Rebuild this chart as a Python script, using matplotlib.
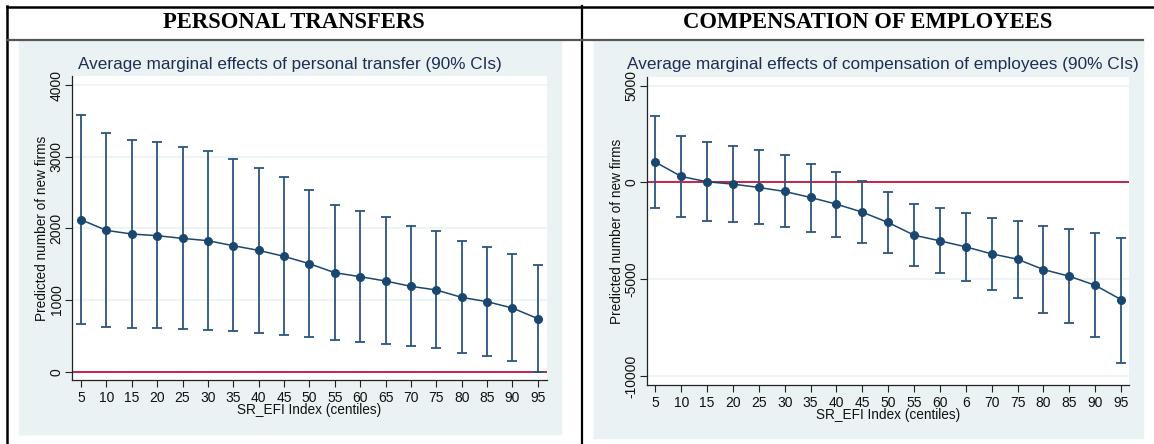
import numpy as np
import matplotlib
matplotlib.use('Agg')
import matplotlib.pyplot as plt
from matplotlib.patches import Rectangle
from matplotlib.lines import Line2D

# centiles of the SR_EFI index
centiles = [5, 10, 15, 20, 25, 30, 35, 40, 45, 50, 55, 60, 65, 70, 75, 80, 85, 90, 95]
centile_labels = ['5', '10', '15', '20', '25', '30', '35', '40', '45', '50',
                  '55', '60', '65', '70', '75', '80', '85', '90', '95']
# the compensation panel has a typo at 65 in the source table
centile_labels_comp = ['5', '10', '15', '20', '25', '30', '35', '40', '45', '50',
                       '55', '60', '6', '70', '75', '80', '85', '90', '95']

# personal transfers: margins with 90% CI
pt_margin = [2121, 1972, 1921, 1898, 1860, 1828, 1758, 1693, 1609, 1507,
             1381, 1326, 1265, 1191, 1140, 1037, 977, 888, 740]
pt_upper = [3581, 3335, 3237, 3200, 3140, 3074, 2963, 2847, 2712, 2535,
            2326, 2242, 2153, 2037, 1963, 1819, 1740, 1637, 1484]
pt_lower = [665, 623, 609, 605, 595, 581, 563, 544, 516, 484,
            437, 414, 386, 353, 326, 260, 219, 144, -9]

# compensation of employees: margins with 90% CI
ce_margin = [1052, 310, 34, -86, -259, -466, -776, -1121, -1534, -2069,
             -2724, -3017, -3327, -3690, -3965, -4500, -4845, -5310, -6051]
ce_upper = [3414, 2414, 2069, 1897, 1672, 1397, 966, 552, 86, -517,
            -1138, -1345, -1586, -1828, -1983, -2241, -2414, -2586, -2845]
ce_lower = [-1345, -1810, -1983, -2069, -2172, -2310, -2569, -2827, -3138, -3638,
            -4327, -4655, -5069, -5552, -5948, -6758, -7258, -8000, -9310]

W, H = 1154, 444
NAVY = '#1a476f'
RED = '#c8103a'
BG = '#eaf2f3'
TXT = '#1c2f55'


def px_rect(x0, y0, x1, y1):
    # pixel box (top-left origin) -> figure fraction rect
    return [x0 / W, 1 - y1 / H, (x1 - x0) / W, (y1 - y0) / H]


def margins_plot(ax, x, m, lo, hi, yticks, yticklabels, xlabels, ylim, xlim,
                 ylab_x, xlab_y):
    ax.set_zorder(3)
    ax.set_facecolor('white')
    ax.set_xlim(*xlim)
    ax.set_ylim(*ylim)
    for t in yticks:
        ax.axhline(t, color=BG, lw=1.2, zorder=0)
    ax.axhline(0, color=RED, lw=1.3, zorder=1)
    m = np.array(m)
    yerr = [m - np.array(lo), np.array(hi) - m]
    ax.errorbar(x, m, yerr=yerr, fmt='none', ecolor='#2b5580', elinewidth=1.3,
                capsize=3.5, capthick=1.3, zorder=2)
    ax.plot(x, m, '-', color=NAVY, lw=1.1, zorder=3)
    ax.plot(x, m, 'o', color=NAVY, ms=5.5, zorder=4)
    ax.set_yticks(yticks)
    ax.set_yticklabels(yticklabels, rotation=90, va='center')
    ax.set_xticks(x)
    ax.set_xticklabels(xlabels)
    ax.tick_params(axis='both', length=5, width=0.8, color='#222222',
                   labelsize=10, labelcolor='#111111')
    ax.tick_params(axis='y', pad=1)
    ax.tick_params(axis='x', pad=3)
    for s in ['top', 'right']:
        ax.spines[s].set_visible(False)
    for s in ['left', 'bottom']:
        ax.spines[s].set_color('#222222')
        ax.spines[s].set_linewidth(0.9)
    ax.set_xlabel('SR_EFI Index (centiles)', fontsize=9.8, color='#111111', va='center')
    ax.set_ylabel('Predicted number of new firms', fontsize=9.8, color='#111111', va='center')
    ax.xaxis.set_label_coords(0.5, xlab_y)
    ax.yaxis.set_label_coords(ylab_x, 0.5)


plt.rcParams['font.family'] = ['Liberation Sans', 'DejaVu Sans']
fig = plt.figure(figsize=(W / 100, H / 100), dpi=100)
fig.patch.set_facecolor('white')

# panel backgrounds
fig.patches.append(Rectangle((19 / W, 1 - 434 / H), (561 - 19) / W, (434 - 41) / H,
                             transform=fig.transFigure, color=BG, zorder=-1))
fig.patches.append(Rectangle((594 / W, 1 - 438 / H), (1143 - 594) / W, (438 - 41) / H,
                             transform=fig.transFigure, color=BG, zorder=-1))

# table rules
fig.lines.append(Line2D([6.5 / W, 1], [1 - 7 / H, 1 - 7 / H], transform=fig.transFigure,
                        color='black', lw=1.8))
fig.lines.append(Line2D([6.5 / W, 6.5 / W], [0, 1 - 6 / H], transform=fig.transFigure,
                        color='black', lw=1.8))
fig.lines.append(Line2D([582 / W, 582 / W], [0, 1 - 6 / H], transform=fig.transFigure,
                        color='black', lw=1.6))
fig.lines.append(Line2D([6.5 / W, 1143 / W], [1 - 40 / H, 1 - 40 / H], transform=fig.transFigure,
                        color='#555555', lw=1.6))

fig.text(294 / W, 1 - 22 / H, 'PERSONAL TRANSFERS', ha='center', va='center',
         fontsize=16.3, fontweight='bold', family='Liberation Serif', color='black')
fig.text(868 / W, 1 - 22 / H, 'COMPENSATION OF EMPLOYEES', ha='center', va='center',
         fontsize=16.3, fontweight='bold', family='Liberation Serif', color='black')

ax1 = fig.add_axes(px_rect(72, 76, 547, 380))
margins_plot(ax1, centiles, pt_margin, pt_lower, pt_upper,
             [0, 1000, 2000, 3000, 4000], ['0', '1000', '2000', '3000', '4000'],
             centile_labels, (-116, 4126), (3.23, 96.8), -0.0632, -0.0987)
fig.text(290 / W, 1 - 65 / H, 'Average marginal effects of personal transfer (90% CIs)',
         ha='center', va='center', fontsize=12.3, color=TXT)

ax2 = fig.add_axes(px_rect(647, 77, 1129, 385))
margins_plot(ax2, centiles, ce_margin, ce_lower, ce_upper,
             [-10000, -5000, 0, 5000], ['-10000', '-5000', '0', '5000'],
             centile_labels_comp, (-10465, 5448), (3.39, 96.55), -0.0622, -0.0974)
fig.text(883 / W, 1 - 65 / H, 'Average marginal effects of compensation of employees (90% CIs)',
         ha='center', va='center', fontsize=12.4, color=TXT)

fig.savefig('out.png', dpi=100, facecolor='white')
